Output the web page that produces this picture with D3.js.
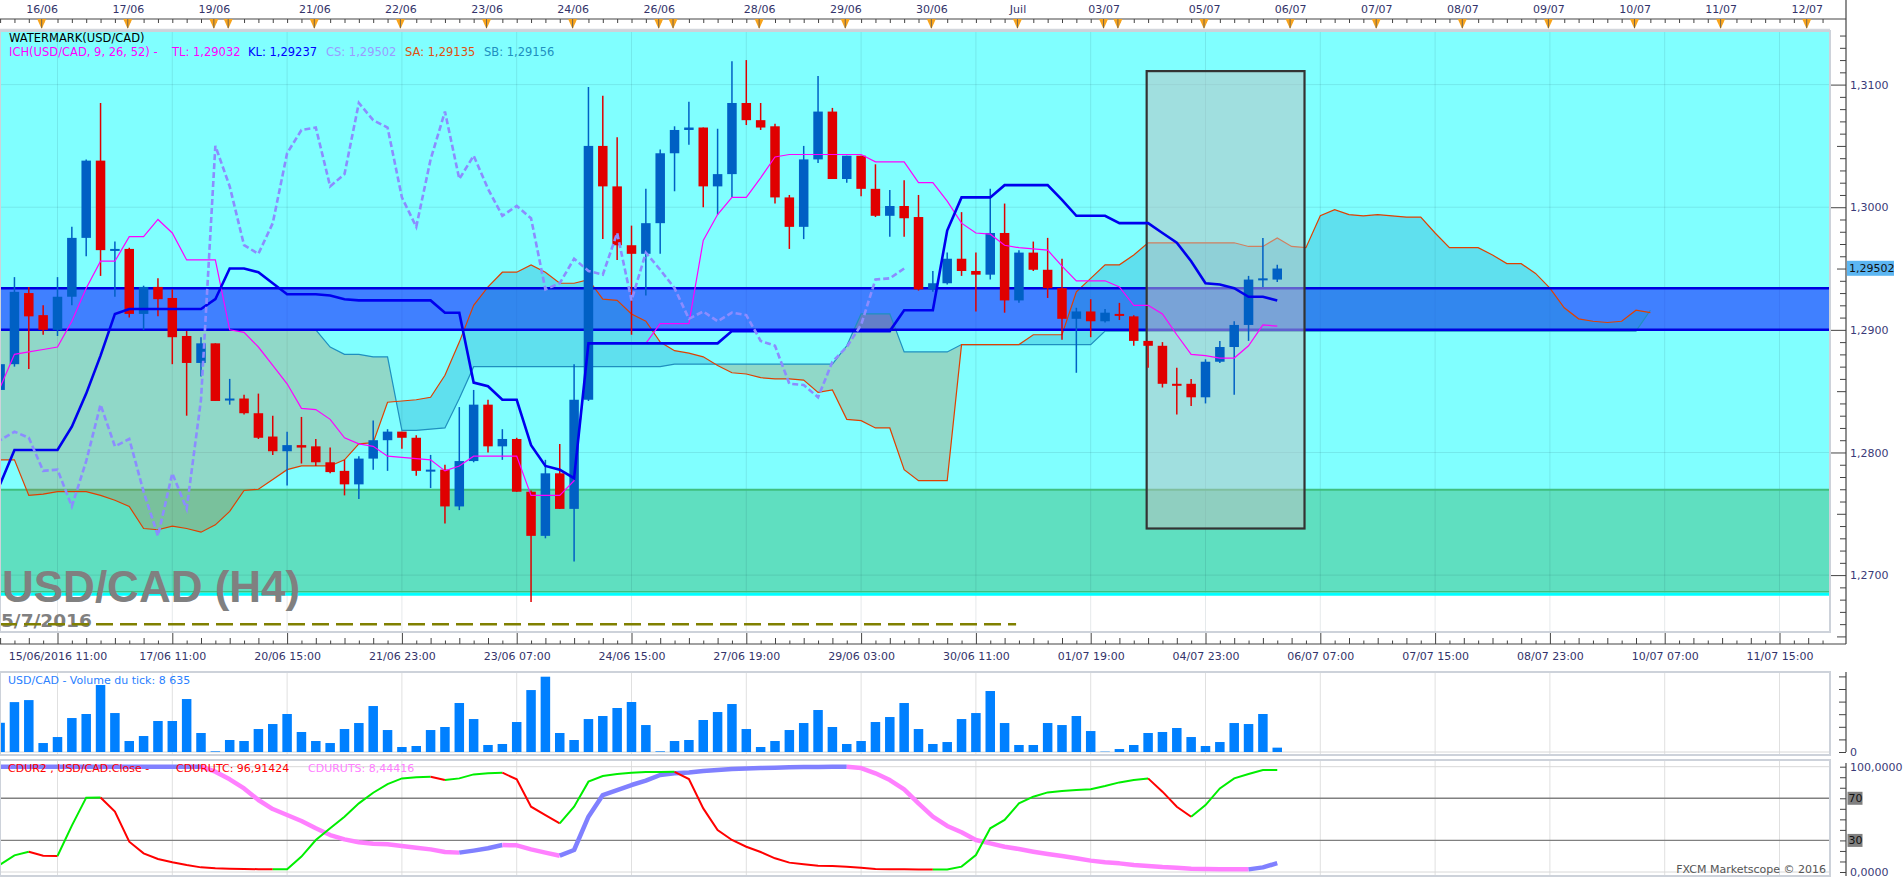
<!DOCTYPE html>
<html>
<head>
<meta charset="utf-8">
<script src="https://cdn.jsdelivr.net/npm/d3@7"></script>
<style>
html, body { margin: 0; padding: 0; background: #fff; overflow: hidden; }
svg { display: block; }
</style>
</head>
<body>
<script>
// candle index of the first value in every array below
const firstK = -4;

const opens = [
  1.2851,1.2872,1.2930,1.2912,1.2900,1.2927,1.2975,1.3038,1.2966,1.2966,
  1.2913,1.2935,1.2926,1.2895,1.2873,1.2889,1.2843,1.2844,1.2832,1.2813,
  1.2801,1.2806,1.2805,1.2792,1.2785,1.2774,1.2795,1.2810,1.2817,1.2812,
  1.2785,1.2786,1.2756,1.2793,1.2839,1.2805,1.2811,1.2768,1.2732,1.2783,
  1.2754,1.2843,1.3050,1.3017,1.2969,1.2962,1.2987,1.3044,1.3063,1.3065,
  1.3017,1.3027,1.3085,1.3071,1.3066,1.3008,1.2984,1.3039,1.3078,1.3023,
  1.3042,1.3015,1.2993,1.3001,1.2992,1.2933,1.2938,1.2958,1.2948,1.2945,
  1.2979,1.2924,1.2963,1.2949,1.2934,1.2909,1.2915,1.2907,1.2913,1.2911,
  1.2891,1.2887,1.2856,1.2856,1.2845,1.2874,1.2886,1.2904,1.2941,1.2941];
const highs = [
  1.2875,1.2943,1.2935,1.2920,1.2943,1.2984,1.3039,1.3085,1.2972,1.2967,
  1.2936,1.2942,1.2933,1.2899,1.2894,1.2889,1.2860,1.2847,1.2848,1.2830,
  1.2817,1.2829,1.2811,1.2804,1.2794,1.2797,1.2826,1.2819,1.2817,1.2814,
  1.2798,1.2790,1.2837,1.2851,1.2843,1.2819,1.2812,1.2769,1.2794,1.2807,
  1.2872,1.3098,1.3091,1.3057,1.2985,1.3015,1.3047,1.3066,1.3086,1.3065,
  1.3064,1.3119,1.3120,1.3085,1.3068,1.3010,1.3050,1.3107,1.3081,1.3042,
  1.3042,1.3035,1.3014,1.3022,1.3010,1.2948,1.2963,1.2996,1.2963,1.3015,
  1.3003,1.2965,1.2972,1.2975,1.2958,1.2918,1.2925,1.2917,1.2922,1.2912,
  1.2891,1.2890,1.2869,1.2860,1.2876,1.2891,1.2907,1.2944,1.2975,1.2953];
const lows = [
  1.2845,1.2870,1.2868,1.2896,1.2895,1.2920,1.2960,1.2944,1.2927,1.2910,
  1.2900,1.2911,1.2872,1.2830,1.2862,1.2842,1.2839,1.2831,1.2811,1.2798,
  1.2773,1.2791,1.2789,1.2783,1.2765,1.2762,1.2786,1.2785,1.2803,1.2781,
  1.2771,1.2742,1.2753,1.2792,1.2800,1.2794,1.2768,1.2678,1.2730,1.2754,
  1.2711,1.2842,1.2974,1.2957,1.2896,1.2928,1.2962,1.3013,1.3051,1.3000,
  1.2994,1.3008,1.3067,1.3063,1.3003,1.2966,1.2974,1.3036,1.3023,1.3020,
  1.3009,1.2992,1.2976,1.2976,1.2932,1.2931,1.2937,1.2944,1.2915,1.2941,
  1.2914,1.2922,1.2948,1.2926,1.2892,1.2865,1.2894,1.2906,1.2908,1.2887,
  1.2869,1.2853,1.2831,1.2838,1.2840,1.2873,1.2847,1.2891,1.2935,1.2939];
const closes = [
  1.2872,1.2931,1.2911,1.2900,1.2927,1.2975,1.3038,1.2965,1.2966,1.2913,
  1.2935,1.2925,1.2894,1.2873,1.2889,1.2842,1.2844,1.2832,1.2812,1.2801,
  1.2806,1.2804,1.2792,1.2784,1.2774,1.2795,1.2810,1.2817,1.2812,1.2785,
  1.2786,1.2756,1.2793,1.2839,1.2805,1.2811,1.2768,1.2732,1.2783,1.2754,
  1.2843,1.3050,1.3017,1.2969,1.2962,1.2987,1.3044,1.3063,1.3065,1.3017,
  1.3027,1.3085,1.3071,1.3065,1.3008,1.2984,1.3039,1.3078,1.3023,1.3042,
  1.3015,1.2993,1.3001,1.2991,1.2933,1.2938,1.2958,1.2948,1.2945,1.2979,
  1.2924,1.2963,1.2949,1.2934,1.2909,1.2915,1.2907,1.2914,1.2912,1.2891,
  1.2887,1.2856,1.2855,1.2845,1.2874,1.2886,1.2904,1.2941,1.2942,1.2950];

// ichimoku lines
const tenkan = [
  1.2853,1.2880,1.2882,1.2884,1.2886,1.2907,1.2934,1.2956,1.2956,1.2976,
  1.2976,1.2990,1.2979,1.2957,1.2957,1.2957,1.2900,1.2898,1.2886,1.2871,
  1.2856,1.2836,1.2835,1.2827,1.2812,1.2807,1.2805,1.2797,1.2796,1.2795,
  1.2794,1.2785,1.2789,1.2797,1.2797,1.2797,1.2797,1.2765,1.2765,1.2765,
  1.2777,1.2889,1.2889,1.2889,1.2889,1.2889,1.2905,1.2905,1.2905,1.2973,
  1.2994,1.3008,1.3008,1.3024,1.3041,1.3043,1.3043,1.3043,1.3043,1.3043,
  1.3043,1.3037,1.3037,1.3037,1.3020,1.3020,1.3005,1.2987,1.2979,1.2978,
  1.2969,1.2967,1.2966,1.2965,1.2952,1.2940,1.2940,1.2940,1.2935,1.2920,
  1.2920,1.2913,1.2896,1.2880,1.2879,1.2877,1.2877,1.2887,1.2904,1.2903];
const kijun = [
  1.2774,1.2802,1.2802,1.2802,1.2802,1.2821,1.2848,1.2879,1.2913,1.2917,
  1.2917,1.2917,1.2917,1.2917,1.2917,1.2925,1.2950,1.2950,1.2947,1.2938,
  1.2929,1.2929,1.2929,1.2928,1.2925,1.2924,1.2924,1.2924,1.2924,1.2924,
  1.2924,1.2914,1.2914,1.2857,1.2854,1.2843,1.2843,1.2806,1.2789,1.2786,
  1.2779,1.2889,1.2889,1.2889,1.2889,1.2889,1.2889,1.2889,1.2889,1.2889,
  1.2889,1.2899,1.2899,1.2899,1.2899,1.2899,1.2899,1.2899,1.2899,1.2899,
  1.2899,1.2899,1.2899,1.2916,1.2916,1.2916,1.2981,1.3008,1.3008,1.3008,
  1.3018,1.3018,1.3018,1.3018,1.3006,1.2993,1.2993,1.2993,1.2987,1.2987,
  1.2987,1.2979,1.2971,1.2956,1.2938,1.2937,1.2934,1.2927,1.2927,1.2924];
const senkouA = [
  1.2794,1.2794,1.2765,1.2766,1.2768,1.2768,1.2768,1.2765,1.2761,1.2756,
  1.2738,1.2737,1.2740,1.2738,1.2735,1.2741,1.2752,1.2769,1.2770,1.2778,
  1.2786,1.2789,1.2789,1.2789,1.2794,1.2807,1.2808,1.2841,1.2842,1.2843,
  1.2845,1.2863,1.2890,1.2920,1.2935,1.2947,1.2947,1.2953,1.2947,1.2938,
  1.2938,1.2941,1.2925,1.2924,1.2913,1.2907,1.2890,1.2883,1.2881,1.2878,
  1.2871,1.2865,1.2864,1.2861,1.2860,1.2860,1.2859,1.2849,1.2851,1.2827,
  1.2826,1.2820,1.2820,1.2786,1.2777,1.2777,1.2777,1.2888,1.2888,1.2888,
  1.2888,1.2888,1.2896,1.2896,1.2896,1.2931,1.2942,1.2953,1.2953,1.2961,
  1.2971,1.2971,1.2971,1.2971,1.2971,1.2971,1.2971,1.2968,1.2968,1.2975,
  1.2968,1.2967,1.2993,1.2998,1.2994,1.2993,1.2994,1.2993,1.2992,1.2992,
  1.2979,1.2967,1.2967,1.2967,1.2961,1.2954,1.2954,1.2946,1.2934,1.2918,
  1.2909,1.2907,1.2906,1.2907,1.2916,1.2914];
const senkouB = [
  1.2900,1.2900,1.2900,1.2900,1.2900,1.2900,1.2900,1.2900,1.2900,1.2900,
  1.2900,1.2900,1.2900,1.2900,1.2900,1.2900,1.2900,1.2900,1.2900,1.2900,
  1.2900,1.2900,1.2900,1.2886,1.2880,1.2880,1.2878,1.2878,1.2818,1.2818,
  1.2819,1.2820,1.2844,1.2870,1.2870,1.2870,1.2870,1.2870,1.2870,1.2870,
  1.2870,1.2870,1.2870,1.2870,1.2870,1.2870,1.2870,1.2872,1.2872,1.2872,
  1.2872,1.2872,1.2872,1.2872,1.2872,1.2872,1.2872,1.2872,1.2872,1.2887,
  1.2913,1.2913,1.2913,1.2882,1.2882,1.2882,1.2882,1.2888,1.2888,1.2888,
  1.2888,1.2888,1.2888,1.2888,1.2888,1.2888,1.2888,1.2899,1.2899,1.2899,
  1.2899,1.2899,1.2899,1.2899,1.2899,1.2899,1.2899,1.2899,1.2899,1.2899,
  1.2899,1.2899,1.2899,1.2899,1.2899,1.2899,1.2899,1.2899,1.2899,1.2899,
  1.2899,1.2899,1.2899,1.2899,1.2899,1.2899,1.2899,1.2899,1.2899,1.2899,
  1.2899,1.2899,1.2899,1.2899,1.2899,1.2916];

const volumes = [
  58000,99000,103000,17800,29700,67400,75400,132900,77300,21800,
  31700,61500,61500,105100,37700,1300,23800,21800,45600,55500,
  75400,39700,21800,17800,45600,57500,91200,43600,9900,11900,
  43600,49600,97200,65400,13900,15900,59500,122900,149400,37700,
  23800,65400,71400,87300,99200,53500,1300,21800,23800,63500,
  79300,95200,45600,9900,21800,43600,57500,83300,49600,15900,
  21800,59500,69400,97200,45600,15900,19800,65400,77300,121000,
  57500,13900,13900,57500,53500,71400,41600,700,5900,13900,
  37700,39700,47600,29700,11900,19800,57500,55500,75400,8635];

const cdurUTC = [
  7.0,15.8,19.3,15.5,15.2,44.0,70.6,70.8,57.3,28.8,
  17.7,12.3,9.2,6.6,4.4,3.5,3.0,2.8,2.7,2.6,
  2.7,14.6,30.4,41.5,52.5,65.2,75.3,83.5,88.9,89.9,
  90.5,87.3,88.9,92.7,93.7,94.3,88.0,62.0,54.1,46.2,
  62.0,85.8,91.1,93.0,94.3,94.9,95.0,95.1,88.3,60.4,
  39.9,30.4,24.0,19.0,13.0,8.9,7.3,6.0,5.7,5.1,
  4.1,2.8,2.6,2.5,2.4,2.3,2.4,5.1,16.1,41.5,
  49.4,65.2,71.5,75.6,76.9,77.8,78.5,81.6,85.1,87.3,
  88.9,76.3,62.0,52.5,63.6,79.4,88.9,93.0,96.8,96.9];
const cdurUTS = [
  100,100,100,100,100,100,100,100,100,100,
  100,100,100,100,100,95.3,88.0,79.4,68.4,59.8,
  54.1,48.4,41.5,35.1,31.0,28.2,26.9,26.3,24.7,23.1,
  21.5,19.0,18.4,20.3,22.5,25.6,25.3,21.5,18.4,15.5,
  20.9,52.5,73.1,77.8,82.6,86.7,92.1,93.7,94.6,95.9,
  96.8,97.8,98.4,98.7,99.0,99.4,99.6,99.7,99.9,100,
  98.7,93.7,87.3,78.5,65.2,52.5,43.7,37.7,30.4,27.2,
  24.0,21.8,19.3,17.1,15.2,13.0,10.8,9.2,8.2,6.6,
  5.7,4.7,4.1,3.2,2.9,2.7,2.6,2.5,4.4,8.4];

// axis labels
const dayK = [-1,5,11,12,18,24,30,36,42,43,49,55,61,67,73,74,80,86,92,98,104,110,116,122];
const dayLabels = ["16/06","17/06","19/06","","21/06","22/06","23/06","24/06","26/06","","28/06",
  "29/06","30/06","Juil","03/07","","05/07","06/07","07/07","08/07","09/07","10/07","11/07","12/07"];
const timeLabels = ["15/06/2016 11:00","17/06 11:00","20/06 15:00","21/06 23:00","23/06 07:00",
  "24/06 15:00","27/06 19:00","29/06 03:00","30/06 11:00","01/07 19:00","04/07 23:00",
  "06/07 07:00","07/07 15:00","08/07 23:00","10/07 07:00","11/07 15:00"];
const priceTicks = [1.27, 1.28, 1.29, 1.30, 1.31];

// drawn objects on the price chart
const greenZone = [1.26858, 1.27696];
const blueBand = [1.2900, 1.2934];
const boxK = [75.9, 86.9], boxPrice = [1.2738, 1.3111];
const dashLevel = 1.2660, dashEndK = 66.8;
const lastPrice = 1.29502;

const W = 1903, H = 878;
const plotR = 1830, axisX = 1846;
const mainTop = 31, mainBot = 632;
const volTop = 672, volBot = 755, oscTop = 760, oscBot = 876;
const upCol = "#0060c4", downCol = "#e00000";

const x = d3.scaleLinear().domain([0, 120]).range([57.5, 1779.5]);
const y = d3.scaleLinear().domain([1.27, 1.31]).range([575.1, 84.6]);
const yV = d3.scaleLinear().domain([0, 150000]).range([752, 676.4]);
const yO = d3.scaleLinear().domain([0, 100]).range([872, 766.7]);

const loc = d3.formatLocale({decimal: ",", thousands: " ", grouping: [3], currency: ["", ""]});
const f4 = loc.format(".4f"), f5 = loc.format(".5f"), fInt = loc.format(",");

const svg = d3.select("body").append("svg")
  .attr("width", W).attr("height", H)
  .style("font-family", "'DejaVu Sans', Verdana, sans-serif")
  .style("font-size", "11px");

const defs = svg.append("defs");
function clipRect(id, x0, y0, w, h) {
  defs.append("clipPath").attr("id", id).append("rect")
    .attr("x", x0).attr("y", y0).attr("width", w).attr("height", h);
}
clipRect("cMain", 0, mainTop, plotR, mainBot - mainTop);
clipRect("cVol", 0, volTop, plotR, volBot - volTop);
clipRect("cOsc", 0, oscTop, plotR, oscBot - oscTop);

const xOf = (d, i) => x(i + firstK);
const gridK = d3.range(0, 121, 8);

// ---------- price panel ----------
const main = svg.append("g").attr("clip-path", "url(#cMain)");

main.append("rect").attr("x", 0).attr("y", mainTop).attr("width", plotR)
  .attr("height", y(greenZone[0]) - mainTop).attr("fill", "#80ffff");
main.append("rect").attr("x", 0).attr("y", y(greenZone[1])).attr("width", plotR)
  .attr("height", y(greenZone[0]) - y(greenZone[1])).attr("fill", "#5fdfc0");

main.selectAll(".vg").data(gridK).join("line")
  .attr("x1", d => x(d)).attr("x2", d => x(d)).attr("y1", mainTop).attr("y2", mainBot)
  .attr("stroke", "rgba(0,40,60,0.10)");
main.selectAll(".hg").data(priceTicks).join("line")
  .attr("x1", 0).attr("x2", plotR).attr("y1", d => y(d)).attr("y2", d => y(d))
  .attr("stroke", "rgba(0,40,60,0.10)");

main.append("line").attr("x1", 0).attr("x2", plotR)
  .attr("y1", y(greenZone[1])).attr("y2", y(greenZone[1]))
  .attr("stroke", "#3fbf7f").attr("stroke-width", 2);
main.append("line").attr("x1", 0).attr("x2", plotR)
  .attr("y1", y(greenZone[0]) - 0.8).attr("y2", y(greenZone[0]) - 0.8)
  .attr("stroke", "#3fbf7f").attr("stroke-width", 1.6);
main.append("line").attr("x1", 0).attr("x2", plotR)
  .attr("y1", y(greenZone[0]) + 1.7).attr("y2", y(greenZone[0]) + 1.7)
  .attr("stroke", "#00ffff").attr("stroke-width", 3);

// blue band
main.append("rect").attr("x", 0).attr("width", plotR)
  .attr("y", y(blueBand[1])).attr("height", y(blueBand[0]) - y(blueBand[1]))
  .attr("fill", "rgba(21,43,255,0.6)");

// cloud: bullish part above senkou B, bearish part below it
const cloudPairs = senkouA.map((a, i) => [a, senkouB[i]]);
defs.append("clipPath").attr("id", "cAbove").append("path")
  .attr("d", d3.area().x(xOf).y0(0).y1(d => y(d))(senkouB));
defs.append("clipPath").attr("id", "cBelow").append("path")
  .attr("d", d3.area().x(xOf).y0(H).y1(d => y(d))(senkouB));
const cloudArea = d3.area().x(xOf).y0(d => y(d[0])).y1(d => y(d[1]));
main.append("g").attr("clip-path", "url(#cAbove)")
  .append("path").attr("d", cloudArea(cloudPairs)).attr("fill", "rgba(21,152,198,0.3)");
main.append("g").attr("clip-path", "url(#cBelow)")
  .append("path").attr("d", cloudArea(cloudPairs)).attr("fill", "rgba(181,125,72,0.3)");

const priceLine = d3.line().x(xOf).y(d => y(d));
main.append("path").attr("d", priceLine(senkouB)).attr("fill", "none")
  .attr("stroke", "#1f8fbf").attr("stroke-width", 1.2);
main.append("path").attr("d", priceLine(senkouA)).attr("fill", "none")
  .attr("stroke", "#e04000").attr("stroke-width", 1.2);

main.selectAll(".band").data(blueBand).join("line")
  .attr("x1", 0).attr("x2", plotR).attr("y1", d => y(d)).attr("y2", d => y(d))
  .attr("stroke", "#0000e0").attr("stroke-width", 2.5);

// gray box
main.append("rect")
  .attr("x", x(boxK[0])).attr("width", x(boxK[1]) - x(boxK[0]))
  .attr("y", y(boxPrice[1])).attr("height", y(boxPrice[0]) - y(boxPrice[1]))
  .attr("fill", "rgba(192,192,192,0.5)").attr("stroke", "#333").attr("stroke-width", 2.2);

// candles
const ks = opens.map((d, i) => i + firstK);
const candleCol = i => closes[i] >= opens[i] ? upCol : downCol;
main.selectAll(".wick").data(ks).join("line")
  .attr("x1", d => x(d)).attr("x2", d => x(d))
  .attr("y1", (d, i) => y(highs[i])).attr("y2", (d, i) => y(lows[i]))
  .attr("stroke", (d, i) => candleCol(i)).attr("stroke-width", 1.5);
main.selectAll(".body").data(ks).join("rect")
  .attr("x", d => x(d) - 4.75).attr("width", 9.5)
  .attr("y", (d, i) => y(Math.max(opens[i], closes[i])))
  .attr("height", (d, i) => Math.max(2, Math.abs(y(opens[i]) - y(closes[i]))))
  .attr("fill", (d, i) => candleCol(i));

// tenkan, kijun, chikou
main.append("path").attr("d", priceLine(tenkan)).attr("fill", "none")
  .attr("stroke", "#ff00ff").attr("stroke-width", 1.2);
main.append("path").attr("d", priceLine(kijun)).attr("fill", "none")
  .attr("stroke", "#0000ee").attr("stroke-width", 2.6);
main.append("path")
  .attr("d", d3.line().x((d, i) => x(i + firstK - 26)).y(d => y(d))(closes))
  .attr("fill", "none").attr("stroke", "#8c8cff").attr("stroke-width", 2.6)
  .attr("stroke-dasharray", "6,3");

// watermark
main.append("text").attr("x", 2).attr("y", 602)
  .style("font-family", "'Liberation Sans', Arial, sans-serif").style("font-weight", "bold")
  .style("font-size", "44px").attr("fill", "#808080").text("USD/CAD (H4)");
main.append("text").attr("x", 1).attr("y", 627)
  .style("font-weight", "bold").style("font-size", "18.5px")
  .attr("fill", "#808080").text("5/7/2016");
main.append("line").attr("x1", 0).attr("x2", x(dashEndK))
  .attr("y1", y(dashLevel)).attr("y2", y(dashLevel))
  .attr("stroke", "#808000").attr("stroke-width", 2.5).attr("stroke-dasharray", "17,7");

// legend
svg.append("text").attr("x", 9).attr("y", 42).attr("fill", "#000")
  .style("font-size", "11.5px").text("WATERMARK(USD/CAD)");
const legendParts = [
  {t: "ICH(USD/CAD, 9, 26, 52) -", c: "#ff00ff", x: 9},
  {t: "TL: 1,29032", c: "#ff00ff", x: 172},
  {t: "KL: 1,29237", c: "#0000ff", x: 248},
  {t: "CS: 1,29502", c: "#9b9bff", x: 326},
  {t: "SA: 1,29135", c: "#e05010", x: 405},
  {t: "SB: 1,29156", c: "#2090c0", x: 484}];
svg.selectAll(".lg").data(legendParts).join("text")
  .attr("x", d => d.x).attr("y", 56).attr("fill", d => d.c)
  .style("font-size", "11.5px").text(d => d.t);

// ---------- top axis ----------
const axisCol = "#444";
svg.append("line").attr("x1", 0).attr("x2", axisX).attr("y1", 19).attr("y2", 19)
  .attr("stroke", axisCol);
svg.append("g").attr("transform", "translate(0,19)")
  .call(d3.axisTop(x).tickValues(d3.range(-4, 124)).tickSize(-4).tickFormat(""))
  .call(g => g.select(".domain").remove())
  .attr("color", axisCol);
svg.selectAll(".tri").data(dayK).join("path")
  .attr("d", d => { const px = x(d) - 1.5; return `M${px - 4.5},19L${px + 4.5},19L${px},29Z`; })
  .attr("fill", "#f8a41c");
svg.selectAll(".tril").data(dayK).join("line")
  .attr("x1", d => x(d) - 1.5).attr("x2", d => x(d) - 1.5).attr("y1", 19).attr("y2", 28)
  .attr("stroke", "#555").attr("stroke-width", 0.8);
svg.append("g").attr("transform", "translate(0,19)")
  .call(d3.axisTop(x).tickValues(dayK.map(d => d - 0.1)).tickSize(0).tickPadding(6)
    .tickFormat((d, i) => dayLabels[i]))
  .call(g => g.select(".domain").remove())
  .call(g => g.selectAll("text").attr("fill", "#33336a")
    .style("font-family", "'DejaVu Sans', Verdana, sans-serif").style("font-size", "11px"));
svg.append("line").attr("x1", 0).attr("x2", plotR).attr("y1", 30).attr("y2", 30)
  .attr("stroke", "#d2d6dc").attr("stroke-width", 2.5);

// ---------- bottom time axis ----------
svg.append("line").attr("x1", 0).attr("x2", axisX).attr("y1", 644).attr("y2", 644)
  .attr("stroke", axisCol).attr("stroke-width", 1.2);
const minorK = d3.range(-4, 124).filter(k => k % 8 !== 0);
svg.append("g").attr("transform", "translate(0,644)")
  .call(d3.axisBottom(x).tickValues(minorK.filter(k => Math.abs(k % 2) === 0)).tickSize(-6).tickFormat(""))
  .call(g => g.select(".domain").remove()).attr("color", axisCol);
svg.append("g").attr("transform", "translate(0,644)")
  .call(d3.axisBottom(x).tickValues(minorK.filter(k => Math.abs(k % 2) === 1)).tickSize(-3.5).tickFormat(""))
  .call(g => g.select(".domain").remove()).attr("color", axisCol);
svg.append("g").attr("transform", "translate(0,644)")
  .call(d3.axisBottom(x).tickValues(gridK).tickSize(-12).tickPadding(8)
    .tickFormat((d, i) => timeLabels[i]))
  .call(g => g.select(".domain").remove())
  .attr("color", axisCol)
  .call(g => g.selectAll("text").attr("fill", "#33336a")
    .style("font-family", "'DejaVu Sans', Verdana, sans-serif").style("font-size", "11px"));

// ---------- right price axis ----------
svg.append("line").attr("x1", axisX).attr("x2", axisX).attr("y1", 0).attr("y2", 644)
  .attr("stroke", axisCol).attr("stroke-width", 1.2);
const minorPrices = d3.range(1265, 1315).filter(v => v % 10 !== 0).map(v => v / 1000);
svg.append("g").attr("transform", `translate(${axisX},0)`)
  .call(d3.axisRight(y).tickValues(minorPrices).tickSize(-6).tickFormat(""))
  .call(g => g.select(".domain").remove()).attr("color", axisCol)
  .call(g => g.selectAll(".tick line").attr("x2", d => Math.round(d * 1000) % 5 === 0 ? -9 : -6));
svg.append("g").attr("transform", `translate(${axisX},0)`)
  .call(d3.axisRight(y).tickValues(priceTicks).tickSize(-15).tickPadding(4).tickFormat(f4))
  .call(g => g.select(".domain").remove())
  .attr("color", axisCol)
  .call(g => g.selectAll("text").attr("fill", "#3a3a78")
    .style("font-family", "'DejaVu Sans', Verdana, sans-serif").style("font-size", "11px"));
svg.append("rect").attr("x", axisX + 1).attr("y", y(lastPrice) - 7.5)
  .attr("width", 47).attr("height", 15).attr("fill", "#5cb6f2");
svg.append("text").attr("x", axisX + 3).attr("y", y(lastPrice) + 4)
  .attr("fill", "#111").text(f5(lastPrice));

// ---------- volume panel ----------
const vol = svg.append("g").attr("clip-path", "url(#cVol)");
vol.selectAll(".vvg").data(gridK).join("line")
  .attr("x1", d => x(d)).attr("x2", d => x(d)).attr("y1", volTop).attr("y2", volBot)
  .attr("stroke", "#e0e0e0");
vol.append("line").attr("x1", 0).attr("x2", plotR).attr("y1", yV(0)).attr("y2", yV(0))
  .attr("stroke", "#d8d8d8");
vol.selectAll(".bar").data(volumes).join("rect")
  .attr("x", (d, i) => x(i + firstK) - 4.75).attr("width", 9.5)
  .attr("y", d => yV(d)).attr("height", d => yV(0) - yV(d))
  .attr("fill", "#0080ff");
svg.append("text").attr("x", 8).attr("y", 684).attr("fill", "#2a7fff")
  .text("USD/CAD - Volume du tick: " + fInt(volumes[volumes.length - 1]));

svg.append("line").attr("x1", axisX).attr("x2", axisX).attr("y1", volTop).attr("y2", yV(0))
  .attr("stroke", axisCol).attr("stroke-width", 1.2);
svg.append("g").attr("transform", `translate(${axisX},0)`)
  .call(d3.axisRight(yV).tickValues(d3.range(0, 150001, 25000)).tickSize(-7).tickPadding(4)
    .tickFormat(d => d === 0 ? "0" : ""))
  .call(g => g.select(".domain").remove())
  .attr("color", axisCol)
  .call(g => g.selectAll("text").attr("fill", "#3a3a78")
    .style("font-family", "'DejaVu Sans', Verdana, sans-serif").style("font-size", "11px"));

// ---------- oscillator panel ----------
const osc = svg.append("g").attr("clip-path", "url(#cOsc)");
osc.selectAll(".ovg").data(gridK).join("line")
  .attr("x1", d => x(d)).attr("x2", d => x(d)).attr("y1", oscTop).attr("y2", oscBot)
  .attr("stroke", "#e0e0e0");
osc.selectAll(".olv").data([0, 100]).join("line")
  .attr("x1", 0).attr("x2", plotR).attr("y1", d => yO(d)).attr("y2", d => yO(d))
  .attr("stroke", "#d8d8d8");
osc.selectAll(".olm").data([30, 70]).join("line")
  .attr("x1", 0).attr("x2", plotR).attr("y1", d => yO(d)).attr("y2", d => yO(d))
  .attr("stroke", "#808080").attr("stroke-width", 1.4);

// split a series into runs coloured by direction
function runs(vals, upC, downC) {
  const out = [];
  let cur = null;
  for (let i = 0; i < vals.length - 1; i++) {
    const c = vals[i + 1] >= vals[i] ? upC : downC;
    if (!cur || cur.c !== c) { cur = {c: c, pts: [[i + firstK, vals[i]]]}; out.push(cur); }
    cur.pts.push([i + 1 + firstK, vals[i + 1]]);
  }
  return out;
}
const oscLine = d3.line().x(d => x(d[0])).y(d => yO(d[1]));
osc.selectAll(".uts").data(runs(cdurUTS, "#8080ff", "#ff80ff")).join("path")
  .attr("d", d => oscLine(d.pts)).attr("fill", "none").attr("stroke", d => d.c)
  .attr("stroke-width", 4.5).attr("stroke-linejoin", "round");
osc.selectAll(".utc").data(runs(cdurUTC, "#00ee00", "#ff0000")).join("path")
  .attr("d", d => oscLine(d.pts)).attr("fill", "none").attr("stroke", d => d.c)
  .attr("stroke-width", 2);

const oscTitle = [
  {t: "CDUR2 , USD/CAD.Close -", c: "#ff0000", x: 8},
  {t: "CDURUTC: 96,91424", c: "#ff0000", x: 176},
  {t: "CDURUTS: 8,44416", c: "#ff80ff", x: 308}];
svg.selectAll(".ot").data(oscTitle).join("text")
  .attr("x", d => d.x).attr("y", 772).attr("fill", d => d.c).text(d => d.t);
svg.append("text").attr("x", plotR - 4).attr("y", 873).attr("text-anchor", "end")
  .attr("fill", "#555").text("FXCM Marketscope \u00a9 2016");

svg.append("line").attr("x1", axisX).attr("x2", axisX).attr("y1", 763).attr("y2", oscBot)
  .attr("stroke", axisCol).attr("stroke-width", 1.2);
svg.append("g").attr("transform", `translate(${axisX},0)`)
  .call(d3.axisRight(yO).tickValues(d3.range(0, 101, 10)).tickSize(-6).tickPadding(4)
    .tickFormat(d => d === 100 ? "100,0000" : d === 0 ? "0,0000" : ""))
  .call(g => g.select(".domain").remove())
  .attr("color", axisCol)
  .call(g => g.selectAll("text").attr("fill", "#3a3a78")
    .style("font-family", "'DejaVu Sans', Verdana, sans-serif").style("font-size", "11px"));
svg.selectAll(".obox").data([70, 30]).join("rect")
  .attr("x", axisX + 1.5).attr("y", d => yO(d) - 6.5).attr("width", 15).attr("height", 13)
  .attr("fill", "#808080");
svg.selectAll(".obt").data([70, 30]).join("text")
  .attr("x", axisX + 2.5).attr("y", d => yO(d) + 4).attr("fill", "#111").text(d => d);

// panel borders
const borders = [[mainTop, mainBot], [volTop, volBot], [oscTop, oscBot]];
svg.selectAll(".pb").data(borders).join("rect")
  .attr("x", 0).attr("y", d => d[0]).attr("width", plotR).attr("height", d => d[1] - d[0])
  .attr("fill", "none").attr("stroke", "#cdd2da").attr("stroke-width", 2);
</script>
</body>
</html>
